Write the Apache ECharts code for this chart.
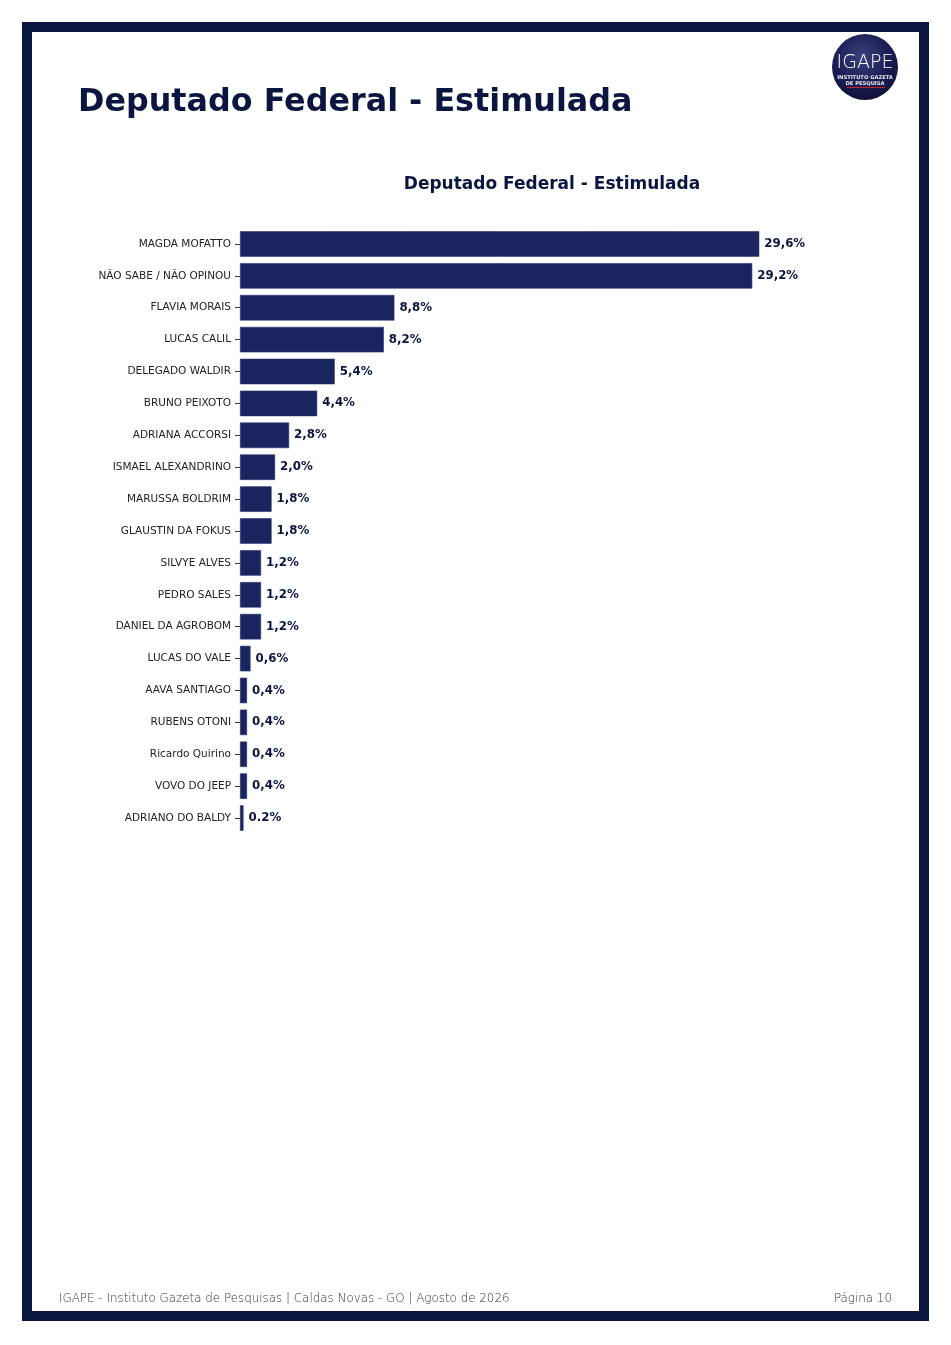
<!DOCTYPE html>
<html>
<head>
<meta charset="utf-8">
<script src="https://cdn.jsdelivr.net/npm/echarts@6/dist/echarts.min.js"></script>
<style>
html,body{margin:0;padding:0;background:#ffffff;}
#chart{width:951px;height:1345px;}
</style>
</head>
<body>
<div id="chart"></div>
<script>
var categories = ["MAGDA MOFATTO","NÃO SABE / NÃO OPINOU","FLAVIA MORAIS","LUCAS CALIL","DELEGADO WALDIR","BRUNO PEIXOTO","ADRIANA ACCORSI","ISMAEL ALEXANDRINO","MARUSSA BOLDRIM","GLAUSTIN DA FOKUS","SILVYE ALVES","PEDRO SALES","DANIEL DA AGROBOM","LUCAS DO VALE","AAVA SANTIAGO","RUBENS OTONI","Ricardo Quirino","VOVO DO JEEP","ADRIANO DO BALDY"];
var values = [29.6,29.2,8.8,8.2,5.4,4.4,2.8,2.0,1.8,1.8,1.2,1.2,1.2,0.6,0.4,0.4,0.4,0.4,0.2];
var valueLabels = ["29,6%","29,2%","8,8%","8,2%","5,4%","4,4%","2,8%","2,0%","1,8%","1,8%","1,2%","1,2%","1,2%","0,6%","0,4%","0,4%","0,4%","0,4%","0.2%"];
var pageTitle = "Deputado Federal - Estimulada";
var chartTitle = "Deputado Federal - Estimulada";
var footerLeft = "IGAPE - Instituto Gazeta de Pesquisas | Caldas Novas - GO | Agosto de 2026";
var footerRight = "Página 10";

var navy = "#0b1640";
var barColor = "#1a2560";
var font = "DejaVu Sans";

var chart = echarts.init(document.getElementById('chart'), null, {renderer:'canvas'});
chart.setOption({
  backgroundColor: '#ffffff',
  animation: false,
  textStyle: {fontFamily: font},
  title: {
    text: chartTitle,
    left: 547, top: 171, textAlign: 'center',
    textStyle: {fontFamily: font, fontWeight: 'bold', fontSize: 17, color: navy}
  },
  grid: {left: 240, right: 97, top: 228, bottom: 1345 - 834, containLabel: false},
  xAxis: {
    type: 'value', min: 0, max: 35,
    show: false
  },
  yAxis: {
    type: 'category', data: categories, inverse: true,
    axisLine: {show: false},
    axisTick: {show: true, length: 5, alignWithLabel: true, lineStyle: {color: '#333', width: 1}},
    axisLabel: {fontFamily: font, fontSize: 10.5, color: '#222', margin: 9}
  },
  series: [{
    type: 'bar',
    data: values,
    barCategoryGap: '20%',
    itemStyle: {color: barColor, borderColor: '#2a3570', borderWidth: 0.6},
    label: {
      show: true, position: 'right', distance: 5,
      fontFamily: font, fontWeight: 'bold', fontSize: 11.8, color: navy,
      formatter: function(p){ return valueLabels[p.dataIndex]; }
    }
  }],
  graphic: [
    {type:'rect', shape:{x:22,y:22,width:907,height:10}, style:{fill: navy}},
    {type:'rect', shape:{x:22,y:1311,width:907,height:10}, style:{fill: navy}},
    {type:'rect', shape:{x:22,y:22,width:10,height:1299}, style:{fill: navy}},
    {type:'rect', shape:{x:919,y:22,width:10,height:1299}, style:{fill: navy}},
    {type:'text', left: 78, top: 87, style:{text: pageTitle, fontFamily: font, fontWeight:'bold', fontSize: 31.8, fill: navy}},
    {type:'circle', shape:{cx:865, cy:67, r:33}, style:{fill: new echarts.graphic.RadialGradient(0.45,0.35,0.75,[{offset:0,color:'#3c417e'},{offset:0.55,color:'#1b1e52'},{offset:1,color:'#0c0e30'}])}},
    {type:'text', x: 865, y: 73, style:{text:'IGAPE', fontFamily:'DejaVu Sans', fontWeight: 200, fontSize: 19, fill:'#ffffff', align:'center', verticalAlign:'bottom'}},
    {type:'text', x: 865, y: 80.5, style:{text:'INSTITUTO GAZETA', fontFamily:'DejaVu Sans', fontWeight:'bold', fontSize: 5.2, fill:'#e8e8f0', align:'center', verticalAlign:'bottom'}},
    {type:'text', x: 865, y: 86, style:{text:'DE PESQUISA', fontFamily:'DejaVu Sans', fontWeight:'bold', fontSize: 5.2, fill:'#e8e8f0', align:'center', verticalAlign:'bottom'}},
    {type:'rect', shape:{x:847,y:87,width:38,height:1}, style:{fill:'#c0202a'}},
    {type:'text', left: 59, top: 1293, style:{text: footerLeft, fontFamily: font, fontWeight: 200, fontSize: 11.9, fill:'#333333'}},
    {type:'text', right: 59, top: 1293, style:{text: footerRight, fontFamily: font, fontWeight: 200, fontSize: 11.9, fill:'#333333'}}
  ]
});
</script>
</body>
</html>
